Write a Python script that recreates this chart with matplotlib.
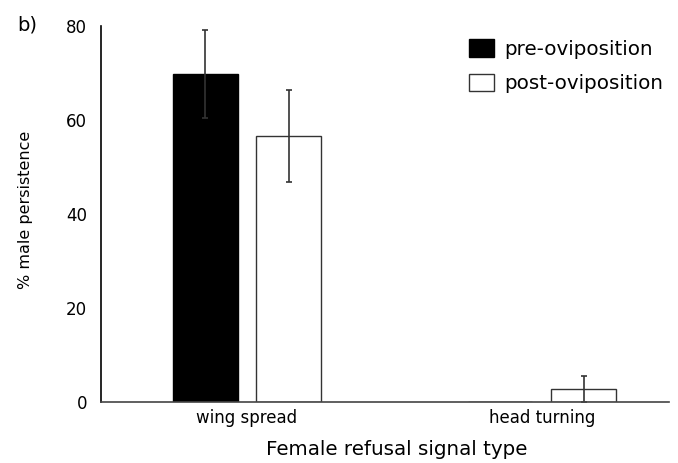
import matplotlib.pyplot as plt
import numpy as np

plt.rcParams['font.family'] = ['DejaVu Sans']

categories = ["wing spread", "head turning"]
pre = [69.8, 0.0]
pre_err = [9.3, 0.0]
post = [56.6, 2.8]
post_err = [9.8, 2.7]

x = np.arange(len(categories))
w = 0.22
off = 0.1417

fig = plt.figure(figsize=(6.78, 4.63), dpi=100)
ax = fig.add_axes([0.149, 0.1317, 0.838, 0.812])

ax.bar(x - off, pre, w, color='black', edgecolor='black', linewidth=1,
       label='pre-oviposition')
ax.bar(x + off, post, w, color='white', edgecolor='#333333', linewidth=1,
       label='post-oviposition')

# error bars only where there is one
for xs, ys, es in [(x - off, pre, pre_err), (x + off, post, post_err)]:
    for xi, yi, ei in zip(xs, ys, es):
        if ei > 0:
            ax.errorbar(xi, yi, yerr=ei, fmt='none', ecolor='#333333',
                        elinewidth=1.2, capsize=2, capthick=1.2)

ax.set_xlim(-0.495, 1.432)
ax.set_ylim(0, 80)
ax.set_yticks([0, 20, 40, 60, 80])
ax.set_xticks(x)
ax.set_xticklabels(categories)
ax.tick_params(axis='both', length=0, labelsize=12)
ax.tick_params(axis='y', pad=10)
ax.tick_params(axis='x', pad=5)

for s in ['top', 'right']:
    ax.spines[s].set_visible(False)
ax.spines['left'].set_color('black')
ax.spines['bottom'].set_color('#444444')
ax.spines['left'].set_linewidth(1.2)
ax.spines['bottom'].set_linewidth(1.2)

ax.set_ylabel('% male persistence', fontsize=11.5)
ax.yaxis.set_label_coords(-0.12, 0.51)
ax.set_xlabel('Female refusal signal type', fontsize=14.3)
ax.xaxis.set_label_coords(0.52, -0.1)

ax.legend(loc='upper left', bbox_to_anchor=(469 / 678, 1 - 39 / 463),
          bbox_transform=fig.transFigure, frameon=False, fontsize=14.3,
          borderpad=0, borderaxespad=0, handlelength=1.25, handleheight=1.0,
          handletextpad=0.55, labelspacing=0.75)

fig.text(0.025, 0.945, 'b)', fontsize=14, va='center')

fig.savefig('out.png', dpi=100)
